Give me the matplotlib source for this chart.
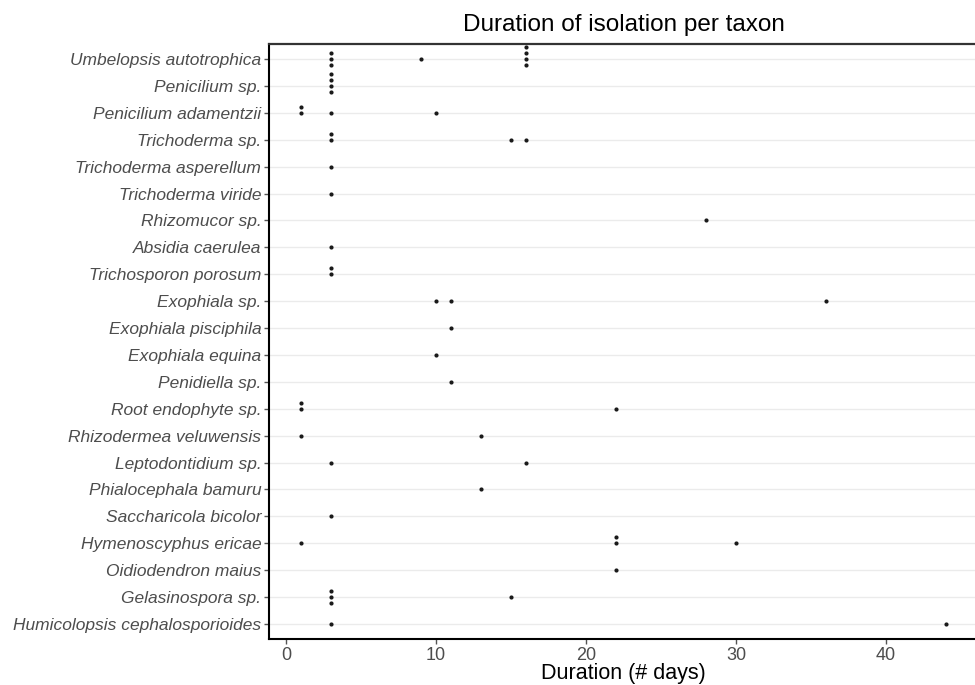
import matplotlib.pyplot as plt
from collections import Counter

taxa = [
    "Umbelopsis autotrophica", "Penicilium sp.", "Penicilium adamentzii",
    "Trichoderma sp.", "Trichoderma asperellum", "Trichoderma viride",
    "Rhizomucor sp.", "Absidia caerulea", "Trichosporon porosum",
    "Exophiala sp.", "Exophiala pisciphila", "Exophiala equina",
    "Penidiella sp.", "Root endophyte sp.", "Rhizodermea veluwensis",
    "Leptodontidium sp.", "Phialocephala bamuru", "Saccharicola bicolor",
    "Hymenoscyphus ericae", "Oidiodendron maius", "Gelasinospora sp.",
    "Humicolopsis cephalosporioides",
]

# isolation durations (days), one entry per isolate
durations = [
    [3, 3, 3, 9, 16, 16, 16, 16],
    [3, 3, 3, 3],
    [1, 1, 3, 10],
    [3, 3, 15, 16],
    [3],
    [3],
    [28],
    [3],
    [3, 3],
    [10, 11, 36],
    [11],
    [10],
    [11],
    [1, 1, 22],
    [1, 13],
    [3, 16],
    [13],
    [3],
    [1, 22, 22, 30],
    [22],
    [3, 3, 3, 15],
    [3, 44],
]

fig = plt.figure(figsize=(9.75, 6.85), dpi=100)
plt.rcParams['font.family'] = ['Liberation Sans', 'DejaVu Sans']
ax = fig.add_axes([269 / 975, 1 - 639 / 685, 709 / 975, 595 / 685])

step = 0.22
n = len(taxa)
for i, vals in enumerate(durations):
    row = n - 1 - i
    for x, cnt in Counter(vals).items():
        # ggplot "centerwhole" stacking
        offs = [k - (cnt + 1) // 2 for k in range(1, cnt + 1)]
        ax.plot([x] * cnt, [row + o * step for o in offs], 'o',
                color='#1a1a1a', ms=3, mew=0, zorder=3)

ax.set_yticks(range(n))
ax.set_yticklabels(taxa[::-1], fontstyle='italic', fontsize=12.5, color='#4D4D4D')
ax.set_ylim(-0.56, n - 1 + 0.56)
ax.set_xlim(-1.15, 46.15)
ax.set_xticks([0, 10, 20, 30, 40])
ax.tick_params(axis='x', labelsize=13, labelcolor='#4D4D4D', color='#555555',
               length=3.5, width=1, pad=2)
ax.tick_params(axis='y', color='#555555', length=3.5, width=1, pad=2)
ax.grid(axis='y', color='#EBEBEB', linewidth=1)
ax.set_axisbelow(True)

ax.spines['right'].set_visible(False)
ax.spines['top'].set_color('#333333')
ax.spines['top'].set_linewidth(1.6)
ax.spines['left'].set_color('black')
ax.spines['left'].set_linewidth(1.5)
ax.spines['bottom'].set_color('black')
ax.spines['bottom'].set_linewidth(1.5)

fig.text(623.5 / 975, 1 - 31 / 685, "Duration of isolation per taxon",
         ha='center', va='baseline', fontsize=17.5, color='black')
fig.text(623 / 975, 1 - 673.5 / 685, "Duration (# days)",
         ha='center', va='center', fontsize=15.5, color='black')

fig.savefig("out.png", dpi=100)
